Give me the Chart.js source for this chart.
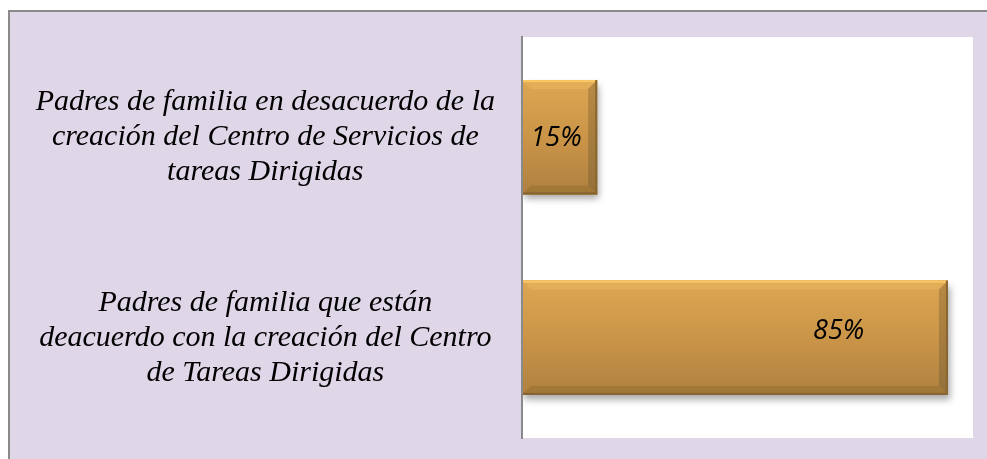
<!DOCTYPE html>
<html>
<head>
<meta charset="utf-8">
<script src="https://cdn.jsdelivr.net/npm/chart.js@4/dist/chart.umd.min.js"></script>
<style>
  html, body { margin: 0; padding: 0; background: #fff; }
  #wrap { width: 987px; height: 459px; position: relative; }
</style>
</head>
<body>
<div id="wrap"><canvas id="c" width="987" height="459"></canvas></div>
<script>
// categories (one entry per line of the label)
const categories = [
  ['Padres de familia en desacuerdo de la', 'creación del Centro de Servicios de', 'tareas Dirigidas'],
  ['Padres de familia que están', 'deacuerdo con la creación del Centro', 'de Tareas Dirigidas']
];
const percentages = [15, 85];
const valueLabels = ['15%', '85%'];

// frame + white plot area
const backdrop = {
  id: 'backdrop',
  beforeDraw(chart) {
    const { ctx, chartArea: a, width, height } = chart;
    ctx.save();
    ctx.fillStyle = '#ffffff';
    ctx.fillRect(0, 0, width, height);
    ctx.fillStyle = '#DFD7E8';
    ctx.fillRect(8, 10, width - 8, height - 10);
    ctx.strokeStyle = '#8a8a8a';
    ctx.lineWidth = 2;
    ctx.beginPath();
    ctx.moveTo(9, height);
    ctx.lineTo(9, 11);
    ctx.lineTo(width, 11);
    ctx.stroke();
    ctx.fillStyle = '#ffffff';
    ctx.fillRect(a.left, a.top, a.right - a.left, a.bottom - a.top);
    ctx.restore();
  },
  beforeDatasetsDraw(chart) {
    const ctx = chart.ctx;
    ctx.save();
    ctx.shadowColor = 'rgba(0,0,0,0.35)';
    ctx.shadowBlur = 7;
    ctx.shadowOffsetX = 2;
    ctx.shadowOffsetY = 5;
  },
  afterDatasetsDraw(chart, args, opts) {
    const ctx = chart.ctx;
    ctx.restore();
    const meta = chart.getDatasetMeta(0);
    meta.data.forEach((bar, i) => {
      const l = bar.base, r = bar.x;
      const t = bar.y - bar.height / 2, b = bar.y + bar.height / 2;
      const bv = 9;
      ctx.save();
      // main body gradient
      const g = ctx.createLinearGradient(0, t, 0, b);
      g.addColorStop(0, '#DCA653');
      g.addColorStop(0.5, '#CB9548');
      g.addColorStop(1, '#AE8040');
      ctx.fillStyle = g;
      ctx.fillRect(l, t, r - l, b - t);
      // top bevel
      ctx.fillStyle = '#E3AE58';
      ctx.beginPath();
      ctx.moveTo(l, t); ctx.lineTo(r, t); ctx.lineTo(r - bv, t + bv); ctx.lineTo(l + bv, t + bv);
      ctx.closePath(); ctx.fill();
      ctx.fillStyle = '#FBC865';
      ctx.fillRect(l, t, r - l, 2);
      // bottom bevel
      ctx.fillStyle = '#A27839';
      ctx.beginPath();
      ctx.moveTo(l, b); ctx.lineTo(r, b); ctx.lineTo(r - bv, b - bv); ctx.lineTo(l + bv, b - bv);
      ctx.closePath(); ctx.fill();
      ctx.fillStyle = '#856332';
      ctx.fillRect(l, b - 2, r - l, 2);
      // right bevel
      const gr = ctx.createLinearGradient(0, t, 0, b);
      gr.addColorStop(0, '#B88A44');
      gr.addColorStop(1, '#94703A');
      ctx.fillStyle = gr;
      ctx.beginPath();
      ctx.moveTo(r, t); ctx.lineTo(r, b); ctx.lineTo(r - bv, b - bv); ctx.lineTo(r - bv, t + bv);
      ctx.closePath(); ctx.fill();
      ctx.fillStyle = '#8A6630';
      ctx.fillRect(r - 2, t, 2, b - t);
      ctx.restore();

      // value label
      const xs = chart.scales.x;
      ctx.save();
      ctx.font = 'italic 27px "Open Sans"';
      ctx.fillStyle = '#000';
      ctx.textAlign = 'center';
      ctx.textBaseline = 'middle';
      ctx.fillText(valueLabels[i], xs.getPixelForValue(opts.labelAt[i]), bar.y + opts.labelDy[i]);
      ctx.restore();
    });
    // axis line redrawn over the bars' left edge
    const ys = chart.scales.y;
    ctx.save();
    ctx.strokeStyle = '#8a8a8a';
    ctx.lineWidth = 2;
    ctx.beginPath();
    ctx.moveTo(ys.right, chart.chartArea.top);
    ctx.lineTo(ys.right, chart.chartArea.bottom);
    ctx.stroke();
    ctx.restore();
  }
};

new Chart(document.getElementById('c'), {
  type: 'bar',
  data: {
    labels: categories,
    datasets: [{
      data: percentages,
      backgroundColor: '#C8924A',
      borderWidth: 0,
      barPercentage: 0.57,
      categoryPercentage: 1
    }]
  },
  options: {
    indexAxis: 'y',
    responsive: false,
    animation: false,
    layout: { padding: { left: 8, top: 37, right: 14, bottom: 21 } },
    plugins: {
      legend: { display: false },
      tooltip: { enabled: false },
      backdrop: { labelAt: [6.8, 63.2], labelDy: [1, -6] }
    },
    scales: {
      x: { display: false, min: 0, max: 90 },
      y: {
        afterFit(scale) {
          scale.width = 514;
          scale.paddingTop = 0;
          scale.paddingBottom = 0;
        },
        grid: { display: false, drawTicks: false },
        border: { display: true, color: '#8a8a8a', width: 2 },
        ticks: {
          crossAlign: 'center',
          padding: 27,
          color: '#000',
          font: { family: '"Liberation Serif", "Times New Roman", serif', style: 'italic', size: 30, lineHeight: 1.17 }
        }
      }
    }
  },
  plugins: [backdrop]
});
</script>
</body>
</html>
